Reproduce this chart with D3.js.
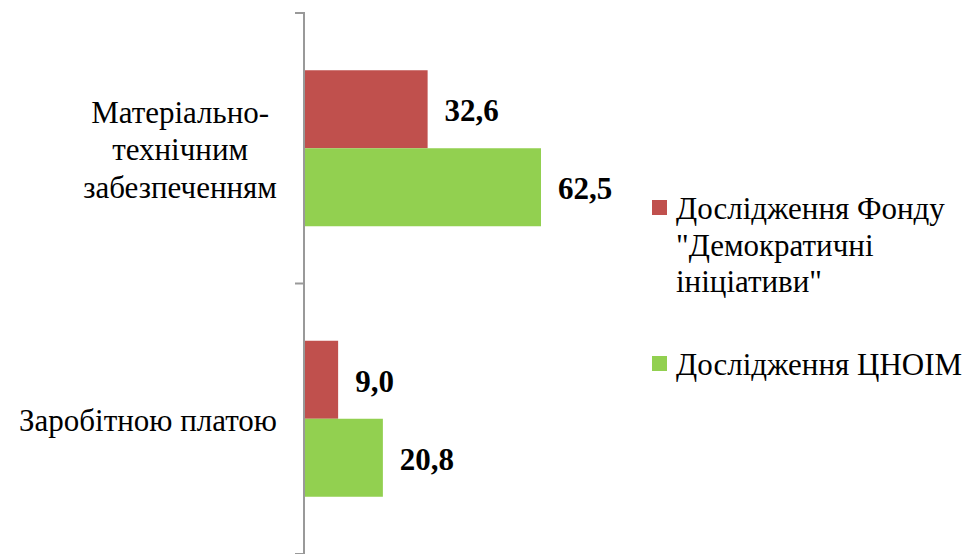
<!DOCTYPE html>
<html>
<head>
<meta charset="utf-8">
<script src="https://cdn.jsdelivr.net/npm/d3@7"></script>
</head>
<body style="margin:0; font-family: 'Liberation Serif', serif;">
<svg id="chart" width="974" height="554" font-family="Liberation Serif"></svg>
<script>
// data
var categories = ["Матеріально-технічним забезпеченням", "Заробітною платою"];
var categoryLines = [["Матеріально-", "технічним", "забезпеченням"], ["Заробітною платою"]];
var seriesNames = ["Дослідження Фонду \"Демократичні ініціативи\"", "Дослідження ЦНОІМ"];
var legendLines = [["Дослідження Фонду", "\"Демократичні", "ініціативи\""], ["Дослідження ЦНОІМ"]];
var fondValues = [32.6, 9.0];
var cnoimValues = [62.5, 20.8];
var colors = ["#C0504D", "#92D050"];

var FONT = 'Liberation Serif';

var draw = function(){
  var svg = d3.select('#chart');
  svg.selectAll('*').remove();

  var x = d3.scaleLinear().domain([0, 70]).range([304, 304 + 70 * 3.792]);
  var y = d3.scaleBand().domain(categories).range([13, 554]);
  var inner = d3.scaleBand().domain([0, 1]).range([0, 156]);

  var rows = categories.map(function(c, i){
    return { cat: c, vals: [fondValues[i], cnoimValues[i]], lines: categoryLines[i] };
  });

  // bars
  var groups = svg.selectAll('.grp')
    .data(rows)
    .enter()
    .append('g')
    .attr('class', 'grp')
    .attr('transform', function(d){ return 'translate(0,' + (y(d.cat) + (y.bandwidth() - 156) / 2) + ')'; });

  groups.selectAll('rect')
    .data(function(d){ return d.vals; })
    .enter()
    .append('rect')
    .attr('x', x(0))
    .attr('y', function(d, i){ return inner(i); })
    .attr('width', function(d){ return x(d) - x(0); })
    .attr('height', inner.bandwidth())
    .attr('fill', function(d, i){ return colors[i]; });

  groups.selectAll('.val')
    .data(function(d){ return d.vals; })
    .enter()
    .append('text')
    .attr('class', 'val')
    .attr('x', function(d){ return x(d) + 17; })
    .attr('y', function(d, i){ return inner(i) + inner.bandwidth() / 2 + 12; })
    .attr('font-family', FONT)
    .attr('font-size', 31)
    .attr('font-weight', 'bold')
    .text(function(d){ return d.toFixed(1).replace('.', ','); });

  // axis line and ticks
  svg.append('line')
    .attr('x1', 304).attr('x2', 304).attr('y1', 13).attr('y2', 554)
    .attr('stroke', '#999').attr('stroke-width', 2);
  svg.selectAll('.tick')
    .data([13, 13 + y.step(), 554])
    .enter()
    .append('line')
    .attr('class', 'tick')
    .attr('x1', 295).attr('x2', 305)
    .attr('y1', function(d){ return d; }).attr('y2', function(d){ return d; })
    .attr('stroke', '#999').attr('stroke-width', 2);

  // category labels: block right-aligned, lines centred inside it
  rows.forEach(function(r){
    var g = svg.append('g');
    var lh = 37.5;
    var cy = y(r.cat) + y.bandwidth() / 2 + 12;
    var t = g.selectAll('text')
      .data(r.lines)
      .enter()
      .append('text')
      .attr('font-family', FONT)
      .attr('font-size', 31)
      .attr('y', function(d, i){ return cy + (i - (r.lines.length - 1) / 2) * lh; })
      .text(function(d){ return d; });
    var w = d3.max(t.nodes(), function(n){ return n.getComputedTextLength(); });
    t.attr('text-anchor', 'middle').attr('x', 277 - w / 2);
  });

  // legend
  var legendBase = [219, 375];
  legendLines.forEach(function(lines, i){
    var g = svg.append('g');
    g.append('rect')
      .attr('x', 652).attr('y', legendBase[i] - 19)
      .attr('width', 15).attr('height', 15)
      .attr('fill', colors[i]);
    g.selectAll('text')
      .data(lines)
      .enter()
      .append('text')
      .attr('x', 676)
      .attr('y', function(d, j){ return legendBase[i] + j * 36.5; })
      .attr('font-family', FONT)
      .attr('font-size', 31)
      .text(function(d){ return d; });
  });
};

draw();

// redraw once the serif face is ready so label widths are measured with it
if (document.fonts && document.fonts.load) {
  Promise.all([
    document.fonts.load('31px "Liberation Serif"', 'Дослідження'),
    document.fonts.load('bold 31px "Liberation Serif"', '32,6')
  ]).then(draw, draw);
}
</script>
</body>
</html>
